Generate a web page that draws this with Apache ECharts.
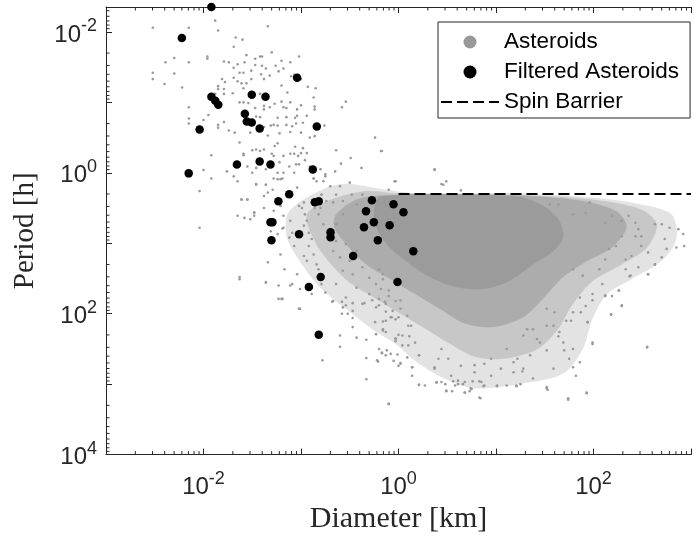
<!DOCTYPE html>
<html>
<head>
<meta charset="utf-8">
<script src="https://cdn.jsdelivr.net/npm/echarts@6/dist/echarts.min.js"></script>
<style>
  html, body { margin: 0; padding: 0; background: #fff; }
  #chart-container { width: 694px; height: 539px; }
</style>
</head>
<body>
<div id="chart-container"></div>
<script>
// all values are [log10(diameter km), log10(period h)]

// filtered asteroids (black)
var filteredLog = [
  [-1.919, -2.353], [-2.222, -1.915], [-1.040, -1.349], [-1.919, -1.081], [-1.879, -1.024],
  [-1.848, -0.967], [-1.505, -1.109], [-1.364, -1.081], [-1.576, -0.840], [-1.556, -0.727],
  [-1.505, -0.713], [-1.424, -0.628], [-2.040, -0.614], [-0.838, -0.656], [-1.657, -0.119],
  [-1.424, -0.161], [-1.313, -0.119], [-0.879, -0.048], [-2.152, 0.008], [-1.121, 0.306],
  [-1.232, 0.405], [-0.859, 0.419], [-0.818, 0.405], [-1.313, 0.702], [-1.293, 0.702],
  [-1.303, 0.956], [-1.020, 0.871], [-0.697, 0.843], [-0.697, 0.914], [-0.273, 0.390],
  [-0.051, 0.447], [-0.333, 0.546], [0.051, 0.560], [-0.253, 0.702], [-0.354, 0.772],
  [-0.091, 0.744], [-0.212, 0.956], [0.152, 1.112], [-0.465, 1.182], [-0.010, 1.550],
  [-0.798, 1.480], [-0.919, 1.621], [-0.818, 2.300]
];

// all asteroids (grey), individual points in the sparse parts
var asteroidLog = [
  // upper left
  [-2.52, -2.06], [-2.15, -2.06], [-1.88, -2.16], [-1.85, -2.02], [-1.34, -2.08], [-1.67, -1.92],
  [-1.60, -1.89], [-1.69, -1.79], [-1.96, -1.65], [-1.96, -1.62], [-1.56, -1.67], [-1.47, -1.62],
  [-1.42, -1.65], [-1.40, -1.65], [-1.30, -1.71], [-1.02, -1.65], [-2.39, -1.57], [-2.30, -1.63],
  [-2.15, -1.57], [-1.79, -1.58], [-1.74, -1.57], [-1.65, -1.54], [-1.58, -1.57], [-1.47, -1.53],
  [-1.40, -1.52], [-1.69, -1.49], [-1.51, -1.45], [-1.36, -1.48], [-1.26, -1.52], [-1.20, -1.59],
  [-1.11, -1.57], [-1.18, -1.48], [-2.52, -1.42], [-2.52, -1.33], [-2.30, -1.41], [-2.40, -1.26],
  [-2.22, -1.21], [-1.81, -1.33], [-1.78, -1.29], [-1.85, -1.23], [-1.85, -1.19], [-1.79, -1.19],
  [-1.69, -1.35], [-1.65, -1.30], [-1.63, -1.42], [-1.59, -1.42], [-1.61, -1.27], [-1.56, -1.27],
  [-1.51, -1.33], [-1.41, -1.40], [-1.38, -1.33], [-1.32, -1.38], [-1.23, -1.44], [-1.10, -1.37],
  [-1.07, -1.39], [-1.00, -1.33], [-0.93, -1.22], [-0.85, -1.20], [-1.20, -1.24], [-1.14, -1.14],
  [-1.88, -1.12], [-1.79, -1.12], [-1.70, -1.13], [-1.59, -1.20], [-1.63, -1.00], [-1.59, -1.00],
  [-1.54, -0.99], [-1.47, -0.92], [-1.42, -1.12], [-1.38, -0.95], [-1.38, -0.90], [-1.32, -0.93],
  [-1.27, -0.98], [-1.20, -1.01], [-1.18, -0.93], [-1.15, -0.92], [-1.11, -1.00], [-1.04, -0.90],
  [-1.00, -0.96], [-0.87, -1.07], [-0.86, -0.94], [-0.86, -0.90], [-0.54, -1.01], [-0.58, -0.93],
  [-2.15, -0.93], [-2.15, -0.77], [-2.15, -0.70], [-2.00, -0.75], [-1.95, -0.82], [-1.85, -0.68],
  [-1.85, -0.64], [-1.79, -0.72], [-1.74, -0.60], [-1.68, -0.57], [-1.63, -0.43], [-1.59, -0.27],
  [-1.59, -0.25], [-1.52, -0.57], [-1.50, -0.71], [-1.46, -0.80], [-1.42, -0.79], [-1.38, -0.65],
  [-1.34, -0.53], [-1.31, -0.67], [-1.28, -0.68], [-1.24, -0.78], [-1.24, -0.67], [-1.22, -0.56],
  [-1.15, -0.79], [-1.15, -0.68], [-1.11, -0.58], [-1.09, -0.66], [-1.06, -0.78], [-1.05, -0.70],
  [-1.04, -0.81], [-1.00, -0.57], [-0.98, -0.71], [-0.94, -0.81], [-0.91, -0.50], [-0.86, -0.52],
  [-0.76, -0.67], [-0.64, -0.32], [-0.59, -0.13], [-0.49, -0.21], [-0.38, -0.07], [-0.24, -0.50],
  [-0.18, -0.31], [-1.92, -0.25], [-1.76, -0.02], [-1.69, 0.05], [-1.50, -0.32], [-1.46, -0.33],
  [-1.42, -0.31], [-1.38, -0.33], [-1.30, -0.27], [-1.28, -0.24], [-1.27, -0.38], [-1.24, -0.42],
  [-1.22, -0.15], [-1.18, -0.24], [-1.12, -0.09], [-1.11, -0.27], [-1.07, -0.27], [-1.06, -0.37],
  [-1.03, -0.24], [-1.00, -0.28], [-0.96, -0.18], [-1.05, -0.12], [-1.02, -0.12], [-0.98, -0.35],
  [-0.94, -0.28], [-0.91, -0.09], [-1.55, -0.09], [-1.50, 0.00], [-1.46, -0.07], [-1.36, -0.05],
  [-1.24, 0.00], [-1.18, 0.00], [-1.07, 0.00], [-0.80, -0.05], [-0.75, 0.02], [-0.65, -0.02],
  [-2.00, -0.04], [-1.92, 0.08], [-1.28, 0.08], [-1.19, 0.08], [-0.87, 0.08],
  // band towards the main cloud
  [-2.04, 0.26], [-2.04, 0.78], [-1.65, 0.12], [-1.65, 0.61], [-1.55, 0.38], [-1.61, 0.38],
  [-1.48, 0.56], [-1.38, 0.33], [-1.36, 0.17], [-1.46, 0.16], [-1.63, 1.48], [-1.36, 1.55],
  [-1.23, 1.79], [-1.19, 0.79], [-1.17, 1.37], [-1.11, 1.60], [-1.01, 1.93],
  [-1.61, 0.38], [-1.55, 0.38], [-1.58, 0.64], [-1.48, 0.57], [-1.48, 0.61], [-1.52, 0.66],
  [-1.46, 0.17], [-1.36, 0.17], [-1.34, 0.28], [-1.38, 0.50], [-1.29, 0.24], [-1.28, 0.54],
  [-1.24, 0.09], [-1.21, 0.09], [-1.21, 0.47], [-1.18, 0.61], [-1.18, 0.78], [-1.14, 0.28],
  [-1.24, 0.87], [-1.31, 0.83], [-1.11, 0.68], [-1.09, 0.85], [-1.04, 0.21], [-1.02, 0.47],
  [-0.99, 0.50], [-0.97, 0.42], [-0.96, 0.59], [-0.97, 0.75], [-0.94, 0.68], [-0.92, 0.85],
  [-0.92, 1.04], [-0.89, 0.94], [-0.87, 0.08], [-0.84, 0.12], [-0.86, 0.50], [-0.82, 0.59],
  [-1.07, 1.04], [-1.12, 0.92], [-1.21, 1.16], [-1.34, 1.27], [-1.63, 1.51], [-1.36, 1.56],
  [-1.23, 1.60], [-1.09, 1.58], [-1.04, 1.44], [-0.97, 1.18], [-0.94, 1.25], [-0.87, 1.16],
  [-0.82, 1.37], [-0.84, 1.30], [-0.82, 1.49], [-0.79, 1.58], [-0.75, 1.70], [-0.89, 1.72],
  [-1.01, 1.65], [-1.19, 1.79], [-1.02, 1.93], [-0.67, 1.82], [-0.77, 0.12], [-0.75, 0.05],
  [-0.70, 0.19], [-0.64, 0.31], [-0.60, 0.19], [-0.50, 0.14], [-0.48, 0.31], [-0.37, 0.31],
  [-0.43, 0.45], [-0.57, 0.40], [-0.67, 0.42], [-0.79, 0.31], [-0.74, 0.40], [-0.80, 0.50],
  [-0.77, 0.73], [-0.70, 0.80], [-0.64, 0.73], [-0.57, 0.59], [-0.64, 0.97], [-0.54, 1.01],
  [-0.60, 1.20], [-0.50, 1.25], [-0.43, 1.11], [-0.67, 1.11], [-0.57, 1.39], [-0.47, 1.44],
  [-0.37, 1.34], [-0.30, 1.49], [-0.23, 1.58], [-0.16, 1.44], [-0.10, 1.67], [-0.30, 1.72],
  [-0.43, 1.63], [-0.54, 1.77], [-0.37, 1.86], [-0.23, 1.91], [-0.13, 1.86], [-0.03, 1.82],
  [-0.06, 1.96], [-0.64, 1.58], [-0.57, 1.91], [-0.47, 1.96],
  // lower left of the cloud
  [-1.20, 1.79], [-1.02, 1.93], [-0.68, 1.83], [-0.58, 1.83], [-0.54, 1.88], [-0.47, 1.85],
  [-0.35, 1.85], [-0.27, 1.81], [-0.20, 1.88], [-0.14, 1.83], [0.02, 1.81], [-0.58, 2.00],
  [-0.52, 2.00], [-0.47, 2.06], [-0.47, 2.19], [-0.24, 2.12], [-0.16, 2.11], [-0.13, 1.97],
  [-0.07, 2.05], [0.00, 2.05], [0.09, 2.03], [0.13, 2.17], [-0.60, 2.31], [-0.43, 2.34],
  [-0.33, 2.37], [-0.23, 2.29], [-0.13, 2.26], [-0.03, 2.35], [-0.03, 2.39], [0.00, 2.30],
  [0.04, 2.45], [0.11, 2.32], [-0.60, 2.47], [-0.78, 2.66], [-0.33, 2.63], [-0.21, 2.68],
  [-0.17, 2.56], [-0.12, 2.52], [-0.05, 2.67], [-0.01, 2.58], [0.02, 2.70], [0.09, 2.62],
  [0.14, 2.76], [-0.33, 2.93], [-0.10, 3.28],
  // above the spin barrier
  [0.37, -0.04], [0.49, 0.12], [0.46, 0.17], [-0.03, 0.12], [-0.10, 0.24], [0.37, -0.05],
  [0.44, 0.16], [0.64, 0.25], [-0.17, -0.31], [-0.04, 0.12],
  // right wing and lower tail
  [2.63, 0.73], [2.70, 0.73], [2.78, 0.78], [2.87, 0.80], [2.92, 0.87], [2.73, 0.94],
  [2.75, 1.08], [2.85, 1.06], [2.93, 1.04], [2.70, 1.20], [2.63, 1.30], [2.56, 1.44],
  [2.55, 2.48], [2.37, 1.47], [2.29, 1.89], [2.18, 2.01], [2.19, 1.75], [2.26, 1.67],
  [2.12, 1.75], [2.09, 1.58], [2.33, 1.37], [2.46, 1.34], [2.49, 0.90], [2.43, 0.71],
  [2.36, 0.61], [2.29, 0.68], [2.19, 0.61], [2.12, 0.71], [1.96, 0.42], [1.92, 0.57],
  [1.79, 0.59], [1.64, 0.45], [1.55, 0.45], [1.79, 1.37], [1.89, 1.46], [1.99, 1.72],
  [1.94, 2.12], [1.99, 2.41], [1.79, 2.50], [1.75, 2.64], [1.86, 2.69], [1.59, 2.78],
  [1.52, 3.04], [1.38, 2.92], [1.25, 3.00], [1.18, 2.83], [1.11, 3.02], [1.05, 2.78],
  [0.95, 2.88], [0.85, 2.97], [0.78, 2.83], [0.68, 2.97], [0.58, 3.02], [0.54, 2.88],
  [0.44, 2.97], [0.37, 2.78], [0.27, 3.02], [0.14, 2.88], [0.00, 2.74], [-0.13, 2.59],
  [-0.20, 2.50], [-0.08, 2.57], [0.04, 2.31], [-0.03, 2.08], [-0.16, 2.22], [-0.10, 1.75],
  [-0.16, 1.51], [-0.20, 1.37], [1.69, 2.41], [1.65, 2.26], [1.52, 2.52], [1.45, 2.41],
  [1.35, 2.59], [1.28, 2.78], [1.18, 2.69], [0.88, 2.71], [0.64, 2.74], [0.41, 2.64],
  [0.21, 2.59], [0.17, 2.41], [0.10, 2.17], [1.92, 1.89], [1.79, 1.98], [1.72, 2.10],
  [1.59, 2.17], [1.52, 1.93], [1.38, 2.22], [1.28, 2.31], [1.86, 1.77], [2.06, 1.37],
  [2.12, 1.23], [2.16, 1.08], [2.23, 1.04], [2.29, 0.90], [2.43, 0.90], [2.46, 0.80],
  [2.49, 1.04], [2.56, 1.13], [2.39, 1.18], [2.33, 1.23],
  [-0.10, 3.28], [0.21, 3.01], [0.39, 2.97], [0.49, 3.09], [0.68, 3.12], [0.74, 3.06],
  [0.83, 3.19], [0.88, 3.02], [1.01, 3.02], [1.21, 3.02], [1.27, 2.82], [1.52, 3.06],
  [1.74, 3.20], [1.93, 3.12], [1.79, 2.76], [1.82, 2.88], [1.70, 2.52], [1.99, 2.43],
  [2.55, 2.47], [2.29, 1.88], [2.18, 2.01], [1.94, 2.12], [1.77, 2.10], [1.64, 2.32],
  [1.42, 2.36], [1.32, 2.22], [-0.22, 2.66], [-0.17, 2.55], [0.02, 2.71], [0.14, 2.76],
  [0.37, 2.76], [0.61, 2.95], [0.21, 2.59], [0.10, 2.45], [-0.03, 2.36], [-0.13, 2.10],
  [-0.16, 2.24], [-0.08, 2.05], [0.02, 1.93], [-0.20, 1.79], [-0.18, 1.65], [2.56, 1.44],
  [2.63, 1.30], [2.38, 1.46], [2.26, 1.67], [2.12, 1.74], [1.99, 1.81], [1.87, 1.98],
  [1.60, 1.98], [1.52, 2.17], [1.11, 2.50], [1.22, 2.64], [0.95, 2.64], [0.78, 2.73],
  [0.51, 2.64], [0.44, 2.50],
  // bottom
  [0.21, 3.01], [0.39, 2.98], [0.48, 3.00], [0.49, 3.10], [0.55, 3.10], [0.56, 2.96],
  [0.61, 3.00], [0.66, 3.00], [0.68, 3.12], [0.73, 3.10], [0.75, 3.07], [0.76, 2.96],
  [0.83, 2.96], [0.84, 3.20], [0.87, 3.03], [1.01, 3.03], [1.21, 3.03], [1.53, 3.08],
  [1.74, 3.22], [1.93, 3.13]
];

// outlines of the crowded part of the cloud, where single points merge (faint to solid)
var cloudFaint = [
  [-1.14, 0.59], [-0.94, 0.35], [-0.59, 0.16], [-0.18, 0.23], [0.17, 0.29], [1.18, 0.29],
  [1.99, 0.35], [2.49, 0.45], [2.80, 0.59], [2.85, 0.94], [2.70, 1.25], [2.39, 1.51],
  [2.14, 1.72], [1.99, 2.07], [1.89, 2.50], [1.69, 2.85], [1.28, 2.99], [0.78, 3.06],
  [0.47, 2.92], [0.17, 2.67], [-0.03, 2.43], [-0.28, 2.21], [-0.54, 1.93], [-0.79, 1.65],
  [-0.99, 1.30], [-1.14, 0.94]
];
var cloudMedium = [
  [-0.94, 0.59], [-0.69, 0.38], [-0.33, 0.26], [-0.03, 0.29], [1.18, 0.31], [1.99, 0.38],
  [2.49, 0.52], [2.65, 0.73], [2.55, 1.06], [2.29, 1.30], [1.99, 1.54], [1.79, 1.86],
  [1.64, 2.21], [1.43, 2.50], [1.08, 2.64], [0.78, 2.61], [0.53, 2.43], [0.27, 2.21],
  [0.02, 2.00], [-0.23, 1.79], [-0.48, 1.58], [-0.69, 1.30], [-0.86, 0.97]
];
var cloudDense = [
  [-0.64, 0.59], [-0.43, 0.38], [-0.13, 0.32], [1.18, 0.32], [1.89, 0.40], [2.24, 0.55],
  [2.34, 0.77], [2.19, 1.06], [1.94, 1.25], [1.69, 1.48], [1.48, 1.79], [1.28, 2.05],
  [0.98, 2.19], [0.68, 2.14], [0.42, 1.93], [0.17, 1.72], [-0.08, 1.51], [-0.33, 1.30],
  [-0.54, 1.01], [-0.66, 0.77]
];
var cloudCore = [
  [-0.18, 0.33], [1.18, 0.33], [1.46, 0.45], [1.64, 0.66], [1.69, 0.91], [1.59, 1.11],
  [1.38, 1.30], [1.13, 1.54], [0.88, 1.65], [0.58, 1.62], [0.32, 1.48], [0.07, 1.25],
  [-0.11, 1.03], [-0.23, 0.77], [-0.25, 0.52]
];

var spinBarrierPeriod = 2.0; // h
var spinBarrierDiam = [1, 1000]; // km

var xMin = 1e-3, xMax = 1e3;
var yMin = 0.00443, yMax = 1e4;
var minorX = [];
var minorY = [];
for (var d = -3; d <= 3; d++) {
  for (var m = 2; m <= 9; m++) {
    var v = m * Math.pow(10, d);
    if (v > xMin && v < xMax) minorX.push(v);
    if (v > yMin && v < yMax) minorY.push(v);
  }
}

function toVal(p) {
  return [Math.pow(10, p[0]), Math.pow(10, p[1])];
}

var axisColor = "#262626";

function powerLabel(v) {
  var lg = Math.log10(v);
  var e = Math.round(lg);
  if (Math.abs(lg - e) > 1e-6 || e % 2 !== 0) return "";
  return "{b|10}{s|" + e + "}";
}

var labelRich = {
  b: { fontSize: 24, fontFamily: "Liberation Sans", color: axisColor },
  s: { fontSize: 18, fontFamily: "Liberation Sans", color: axisColor, padding: [0, 0, 17, 0] },
};

function cloudSeries(name, poly, color) {
  return {
    name: name,
    type: "custom",
    silent: true,
    z: 1,
    data: [[1, 1]],
    renderItem: function (params, api) {
      return {
        type: "polygon",
        shape: { points: poly.map(function (p) { return api.coord(toVal(p)); }), smooth: 0.3 },
        style: { fill: color },
      };
    },
  };
}

var dom = document.getElementById("chart-container");
var myChart = echarts.init(dom, null, { renderer: "canvas" });

var option = {
  animation: false,
  backgroundColor: "#fff",
  grid: { left: 106, top: 7, right: -8, bottom: 83 },
  legend: {
    orient: "vertical",
    left: 438,
    top: 22,
    padding: [8, 11, 4, 2],
    itemWidth: 58,
    itemHeight: 13,
    itemGap: 6,
    borderColor: axisColor,
    borderWidth: 1,
    borderRadius: 0,
    backgroundColor: "#fff",
    textStyle: { fontSize: 22.5, lineHeight: 24, fontFamily: "Liberation Sans", color: "#000" },
    data: ["Asteroids", "Filtered Asteroids", "Spin Barrier"],
  },
  xAxis: [
    {
      type: "log",
      min: xMin,
      max: xMax,
      name: "Diameter [km]",
      nameLocation: "middle",
      nameGap: 42,
      nameTextStyle: { fontSize: 30, fontFamily: "Liberation Serif", color: axisColor },
      axisLine: { lineStyle: { color: axisColor, width: 1 } },
      axisTick: { inside: true, length: 6, lineStyle: { color: axisColor } },
      axisLabel: { formatter: powerLabel, rich: labelRich, margin: 15 },
      splitLine: { show: false },
    },
    {
      type: "log",
      position: "top",
      min: xMin,
      max: xMax,
      axisLine: { lineStyle: { color: axisColor, width: 1 } },
      axisTick: { inside: true, length: 6, lineStyle: { color: axisColor } },
      axisLabel: { show: false },
      splitLine: { show: false },
    },
  ],
  yAxis: {
    type: "log",
    inverse: true,
    min: yMin,
    max: yMax,
    name: "Period [h]",
    nameLocation: "middle",
    nameGap: 66,
    nameTextStyle: { fontSize: 29, fontFamily: "Liberation Serif", color: axisColor },
    axisLine: { lineStyle: { color: axisColor, width: 1 } },
    axisTick: { inside: true, length: 6, lineStyle: { color: axisColor } },
    axisLabel: { formatter: powerLabel, rich: labelRich, margin: 9, padding: [6, 0, 0, 0] },
    splitLine: { show: false },
  },
  series: [
    cloudSeries("cloudFaint", cloudFaint, "#e3e3e3"),
    cloudSeries("cloudMedium", cloudMedium, "#c7c7c7"),
    cloudSeries("cloudDense", cloudDense, "#acacac"),
    cloudSeries("cloudCore", cloudCore, "#9b9b9b"),
    {
      name: "Asteroids",
      type: "scatter",
      symbol: "circle",
      symbolSize: 2.6,
      z: 2,
      itemStyle: { color: "#999999", opacity: 1 },
      data: asteroidLog.map(toVal),
    },
    {
      name: "Spin Barrier",
      type: "line",
      symbol: "none",
      z: 3,
      itemStyle: { color: "#000", opacity: 0 },
      lineStyle: { color: "#000", width: 2, type: [11, 5], opacity: 1 },
      data: spinBarrierDiam.map(function (d) { return [d, spinBarrierPeriod]; }),
    },
    {
      name: "Filtered Asteroids",
      type: "scatter",
      symbol: "circle",
      symbolSize: 8.5,
      clip: false,
      z: 4,
      itemStyle: { color: "#000", opacity: 1 },
      data: filteredLog.map(toVal),
    },
    {
      // log minor ticks (2..9 in each decade)
      name: "minorTicks",
      type: "custom",
      silent: true,
      z: 5,
      data: [[1, 1]],
      renderItem: function (params, api) {
        var top = api.coord([1, yMin])[1];
        var bottom = api.coord([1, yMax])[1];
        var left = api.coord([xMin, 1])[0];
        var kids = [];
        var st = { stroke: axisColor, lineWidth: 1 };
        minorX.forEach(function (v) {
          var x = api.coord([v, 1])[0];
          kids.push({ type: "line", shape: { x1: x, y1: bottom, x2: x, y2: bottom - 3.5 }, style: st });
          kids.push({ type: "line", shape: { x1: x, y1: top, x2: x, y2: top + 3.5 }, style: st });
        });
        minorY.forEach(function (v) {
          var y = api.coord([1, v])[1];
          kids.push({ type: "line", shape: { x1: left, y1: y, x2: left + 3.5, y2: y }, style: st });
        });
        return { type: "group", children: kids };
      },
    },
  ],
};

if (option && typeof option === "object") {
  myChart.setOption(option);
}

window.addEventListener("resize", myChart.resize);
</script>
</body>
</html>
